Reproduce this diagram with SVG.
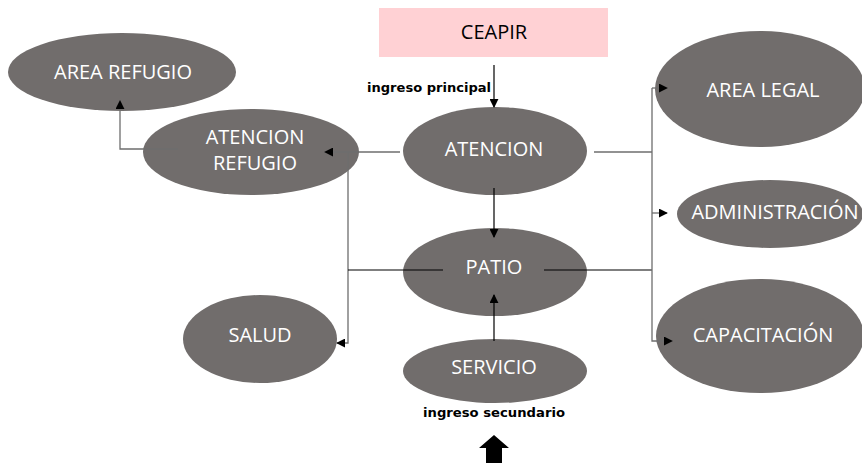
<svg xmlns="http://www.w3.org/2000/svg" width="862" height="463" viewBox="0 0 862 463">
<style>
.node{fill:#716d6c}
.lbl{fill:#ffffff;font-family:"Open Sans","Liberation Sans",sans-serif;font-size:20px;text-anchor:middle;dominant-baseline:central}
.cap{font-family:"DejaVu Sans","Liberation Sans",sans-serif;font-weight:bold;font-size:12.5px;fill:#000}
.g{stroke:#6e6e6e;stroke-width:1.3;fill:none}
.k{stroke:#000;stroke-width:1.2;fill:none}
</style>
<defs>
<marker id="ah" viewBox="0 0 10 10" refX="9" refY="5" markerWidth="9" markerHeight="9" markerUnits="userSpaceOnUse" orient="auto">
<path d="M0,0 L10,5 L0,10 Z" fill="#000"/>
</marker>
</defs>
<rect width="862" height="463" fill="#fff"/>

<g id="ceapir">
<rect x="379" y="8" width="229" height="49" fill="#ffd1d4"/>
<text x="494" y="31" class="lbl" style="fill:#000">CEAPIR</text>
</g>
<g id="area-refugio">
<ellipse class="node" cx="122" cy="72" rx="114" ry="39"/>
<text x="123" y="71" class="lbl">AREA REFUGIO</text>
</g>
<g id="atencion-refugio">
<ellipse class="node" cx="251" cy="152" rx="108" ry="43"/>
<text x="255" y="136" class="lbl">ATENCION</text>
<text x="255" y="162" class="lbl">REFUGIO</text>
</g>
<g id="atencion">
<ellipse class="node" cx="495" cy="151" rx="92" ry="44"/>
<text x="494" y="148" class="lbl">ATENCION</text>
</g>
<g id="patio">
<ellipse class="node" cx="495" cy="272" rx="92" ry="44"/>
<text x="494" y="266" class="lbl">PATIO</text>
</g>
<g id="servicio">
<ellipse class="node" cx="495" cy="371" rx="92" ry="32"/>
<text x="494" y="366" class="lbl">SERVICIO</text>
</g>
<g id="salud">
<ellipse class="node" cx="260" cy="339" rx="77" ry="44"/>
<text x="260" y="334" class="lbl">SALUD</text>
</g>
<g id="area-legal">
<ellipse class="node" cx="760" cy="89" rx="105" ry="58"/>
<text x="763" y="89" class="lbl">AREA LEGAL</text>
</g>
<g id="administracion">
<ellipse class="node" cx="770" cy="214" rx="93" ry="34"/>
<text x="775" y="211" class="lbl">ADMINISTRACIÓN</text>
</g>
<g id="capacitacion">
<ellipse class="node" cx="760" cy="336" rx="104" ry="57"/>
<text x="763" y="334" class="lbl">CAPACITACIÓN</text>
</g>

<g id="connectors">
<path class="k" d="M494,65 V107" marker-end="url(#ah)"/>
<path class="g" d="M400,152 H325" marker-end="url(#ah)"/>
<path class="g" d="M178,149 H120 V101" marker-end="url(#ah)"/>
<path class="g" d="M348,152 V343 H337" marker-end="url(#ah)"/>
<path class="k" d="M443,270 H348"/>
<path class="k" d="M494,188 V237" marker-end="url(#ah)"/>
<path class="k" d="M494,341 V295" marker-end="url(#ah)"/>
<path class="g" d="M594,152 H652"/>
<path class="k" d="M544,270 H652"/>
<path class="g" d="M652,88 V341 H672" marker-end="url(#ah)"/>
<path class="g" d="M652,88 H667" marker-end="url(#ah)"/>
<path class="g" d="M652,213 H667" marker-end="url(#ah)"/>
<path d="M494,435 L509,448 L502,448 L502,463 L486,463 L486,448 L479,448 Z" fill="#000"/>
</g>

<text class="cap" x="367" y="92" textLength="124" lengthAdjust="spacingAndGlyphs">ingreso principal</text>
<text class="cap" x="423" y="417" textLength="142" lengthAdjust="spacingAndGlyphs">ingreso secundario</text>
</svg>
